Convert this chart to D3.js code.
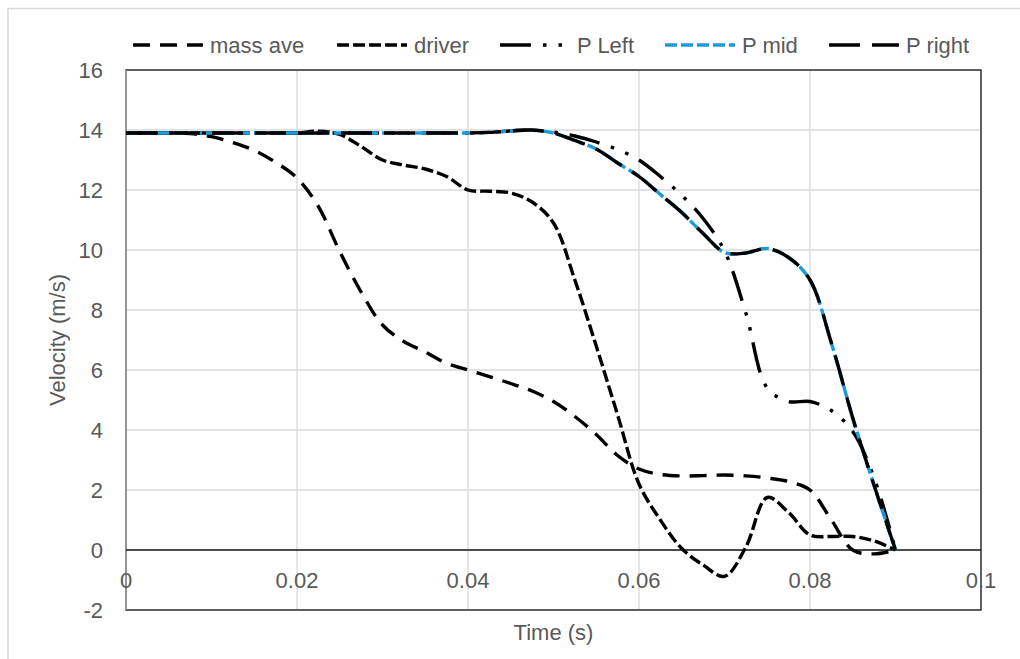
<!DOCTYPE html>
<html lang="en">
<head>
    <meta charset="UTF-8">
    <title>Velocity vs time</title>
    <script src="https://d3js.org/d3.v7.min.js"></script>
    <style>
        body { margin: 0; background: #fff; }
        text { font-family: "Liberation Sans", Arial, sans-serif; fill: #595959; }
    </style>
</head>
<body>
    <div id="graph"></div>
    <script>
        // time steps (s)
        var time = [0, 0.0025, 0.005, 0.0075, 0.01, 0.0125, 0.015, 0.0175, 0.02, 0.0225,
            0.025, 0.0275, 0.03, 0.0325, 0.035, 0.0375, 0.04, 0.0425, 0.045, 0.0475,
            0.05, 0.0525, 0.055, 0.0575, 0.06, 0.0625, 0.065, 0.0675, 0.07, 0.0725,
            0.075, 0.0775, 0.08, 0.0825, 0.085, 0.0875, 0.09]

        // velocities (m/s)
        var massAve = [13.9, 13.9, 13.9, 13.88, 13.78, 13.58, 13.32, 12.92, 12.4, 11.45,
            9.95, 8.6, 7.5, 6.95, 6.6, 6.22, 6.0, 5.78, 5.55, 5.3,
            4.95, 4.45, 3.85, 3.15, 2.7, 2.52, 2.47, 2.48, 2.5, 2.47,
            2.4, 2.28, 2.0, 1.0, 0.0, -0.13, 0]
        var driver = [13.9, 13.9, 13.9, 13.9, 13.9, 13.9, 13.9, 13.9, 13.9, 13.96,
            13.85, 13.45, 13.0, 12.83, 12.7, 12.45, 12.0, 11.96, 11.9, 11.6,
            10.9, 9.0, 6.8, 4.5, 2.2, 1.0, 0.05, -0.5, -0.88, 0.1,
            1.75, 1.25, 0.5, 0.45, 0.45, 0.3, 0]
        var pLeft = [13.9, 13.9, 13.9, 13.9, 13.9, 13.9, 13.9, 13.9, 13.9, 13.9,
            13.9, 13.9, 13.9, 13.9, 13.9, 13.9, 13.9, 13.92, 13.97, 14.0,
            13.93, 13.8, 13.6, 13.35, 13.0, 12.45, 11.82, 11.05, 9.97, 7.9,
            5.4, 4.95, 4.95, 4.65, 3.95, 2.4, 0]
        var pMid = [13.9, 13.9, 13.9, 13.9, 13.9, 13.9, 13.9, 13.9, 13.9, 13.9,
            13.9, 13.9, 13.9, 13.9, 13.9, 13.9, 13.9, 13.92, 13.97, 14.0,
            13.9, 13.65, 13.37, 12.9, 12.45, 11.85, 11.25, 10.55, 9.92, 9.9,
            10.05, 9.75, 9.0, 6.9, 4.4, 2.15, 0]
        var pRight = [13.9, 13.9, 13.9, 13.9, 13.9, 13.9, 13.9, 13.9, 13.9, 13.9,
            13.9, 13.9, 13.9, 13.9, 13.9, 13.9, 13.9, 13.92, 13.97, 14.0,
            13.9, 13.65, 13.37, 12.9, 12.45, 11.85, 11.25, 10.55, 9.92, 9.9,
            10.05, 9.75, 9.0, 6.9, 4.4, 2.15, 0]

        var seriesNames = ["mass ave", "driver", "P Left", "P mid", "P right"]
        var xTicks = [0, 0.02, 0.04, 0.06, 0.08, 0.1]
        var yTicks = [-2, 0, 2, 4, 6, 8, 10, 12, 14, 16]

        var width = 1020, height = 659
        const plot = {left: 126, right: 981, top: 70, bottom: 610}

        var series = [
            {name: seriesNames[0], values: massAve, color: "#000", dash: "17,10"},
            {name: seriesNames[1], values: driver, color: "#000", dash: "12,4"},
            {name: seriesNames[2], values: pLeft, color: "#000", dash: "31,12,3.5,12,3.5,12"},
            {name: seriesNames[3], values: pMid, color: "#1b9bd7", dash: "12,4"},
            {name: seriesNames[4], values: pRight, color: "#000", dash: "31,12"}
        ]

        var svg = d3.select("#graph")
            .append("svg")
                .attr("width", width)
                .attr("height", height)

        // chart border (offset like the original capture)
        svg.append("rect")
            .attr("x", 8)
            .attr("y", 8.5)
            .attr("width", width + 20)
            .attr("height", height + 20)
            .attr("fill", "none")
            .attr("stroke", "#d9d9d9")
            .attr("stroke-width", 1.5)

        var x = d3.scaleLinear()
            .domain([0, 0.1])
            .range([plot.left, plot.right])

        var y = d3.scaleLinear()
            .domain([-2, 16])
            .range([plot.bottom, plot.top])

        // grid
        svg.selectAll("line.hgrid").data(yTicks).enter()
            .append("line")
                .attr("x1", plot.left)
                .attr("x2", plot.right)
                .attr("y1", d => y(d))
                .attr("y2", d => y(d))
                .attr("stroke", "#d9d9d9")
                .attr("stroke-width", 1.3)

        svg.selectAll("line.vgrid").data(xTicks).enter()
            .append("line")
                .attr("x1", d => x(d))
                .attr("x2", d => x(d))
                .attr("y1", plot.top)
                .attr("y2", plot.bottom)
                .attr("stroke", "#d9d9d9")
                .attr("stroke-width", 1.3)

        // plot area border
        svg.append("rect")
            .attr("x", plot.left)
            .attr("y", plot.top)
            .attr("width", plot.right - plot.left)
            .attr("height", plot.bottom - plot.top)
            .attr("fill", "none")
            .attr("stroke", "#1a1a1a")
            .attr("stroke-width", 1.3)

        // vertical axis line
        svg.append("line")
            .attr("x1", x(0))
            .attr("x2", x(0))
            .attr("y1", plot.top)
            .attr("y2", plot.bottom)
            .attr("stroke", "#a6a6a6")
            .attr("stroke-width", 1.5)

        // horizontal axis at zero
        svg.append("line")
            .attr("x1", plot.left)
            .attr("x2", plot.right)
            .attr("y1", y(0))
            .attr("y2", y(0))
            .attr("stroke", "#1a1a1a")
            .attr("stroke-width", 1.3)

        // tick labels
        svg.selectAll("text.ytick").data(yTicks).enter()
            .append("text")
                .attr("x", 103)
                .attr("y", d => y(d))
                .attr("dy", "0.35em")
                .attr("text-anchor", "end")
                .style("font-size", "22px")
                .text(d => d)

        svg.selectAll("text.xtick").data(xTicks).enter()
            .append("text")
                .attr("x", d => x(d))
                .attr("y", y(0) + 30)
                .attr("dy", "0.35em")
                .attr("text-anchor", "middle")
                .style("font-size", "22px")
                .text(d => d)

        // axis titles
        svg.append("text")
            .attr("transform", "translate(57," + ((plot.top + plot.bottom) / 2) + ") rotate(-90)")
            .attr("dy", "0.35em")
            .attr("text-anchor", "middle")
            .style("font-size", "22px")
            .text("Velocity (m/s)")

        svg.append("text")
            .attr("x", (plot.left + plot.right) / 2)
            .attr("y", 632)
            .attr("dy", "0.35em")
            .attr("text-anchor", "middle")
            .style("font-size", "22px")
            .text("Time (s)")

        // lines
        var line = d3.line()
            .x((d, i) => x(time[i]))
            .y(d => y(d))
            .curve(d3.curveCatmullRom.alpha(0.5))

        svg.append("g")
            .selectAll("path")
            .data(series)
            .enter()
            .append("path")
                .attr("d", d => line(d.values))
                .attr("fill", "none")
                .attr("stroke", d => d.color)
                .attr("stroke-width", 3.4)
                .attr("stroke-dasharray", d => d.dash)

        // legend
        var legendX = [133, 337, 500, 665, 829]
        var legend = svg.append("g")
            .selectAll("g")
            .data(series)
            .enter()
            .append("g")
                .attr("transform", (d, i) => "translate(" + legendX[i] + ",45)")

        legend.append("line")
            .attr("x1", 0)
            .attr("x2", 70)
            .attr("y1", 0)
            .attr("y2", 0)
            .attr("stroke", d => d.color)
            .attr("stroke-width", 3.4)
            .attr("stroke-dasharray", d => d.dash)

        legend.append("text")
            .attr("x", 77)
            .attr("y", 0)
            .attr("dy", "0.35em")
            .style("font-size", "22px")
            .text(d => d.name)
    </script>
</body>
</html>
